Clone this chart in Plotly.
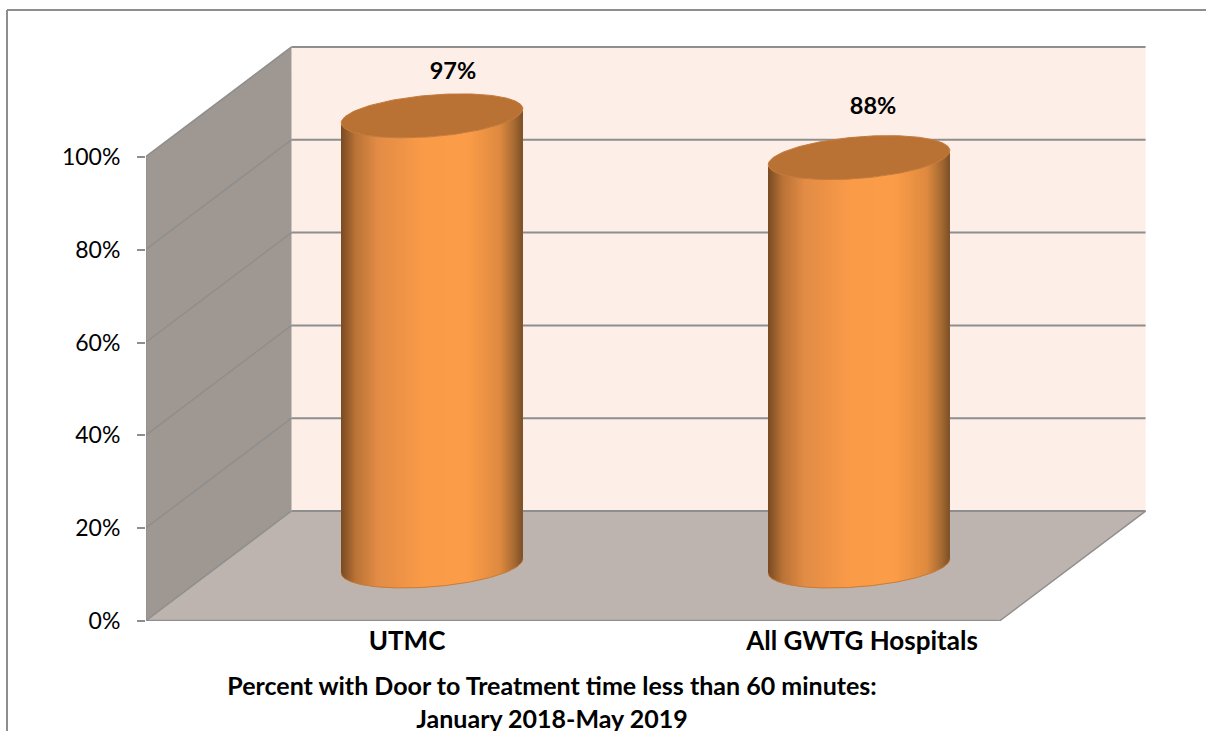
import numpy as np
import plotly.graph_objects as go

categories = ["UTMC", "All GWTG Hospitals"]
values = [97, 88]
value_labels = ["97%", "88%"]
y_ticks = [0, 20, 40, 60, 80, 100]
title_lines = ["Percent with Door to Treatment time less than 60 minutes:", "January 2018-May 2019"]

# oblique projection of the 3-D chart box, in axis units
DX, DY = 0.342, 23.7
X_RANGE = [-0.6698, 1.672]
Y_RANGE = [0, 123.9]
R_X, R_D = 0.2014, 0.2
LABEL_TICK_SHIFT = [-0.0585, 0.007]
LABEL_DX = [0.049, 0.033]
LABEL_DY = [9.3, 10.7]

FONT = "Lato"
GRAY = "#8E8E8E"
LEFT, RIGHT = -0.5, 1.5


def pr(x, v, d):
    return x + (d - 0.5) * DX, v + d * DY


def path(pts):
    return "M " + " L ".join(f"{a:.5f},{b:.5f}" for a, b in pts) + " Z"


def wall(corners, fill):
    return dict(type="path", xref="x", yref="y", layer="below", path=path(corners),
                fillcolor=fill, line=dict(width=0))


def seg(p, q, w=1.5, color=GRAY):
    return dict(type="line", xref="x", yref="y", layer="below", x0=p[0], y0=p[1], x1=q[0], y1=q[1],
                line=dict(color=color, width=w))


shapes = [
    wall([pr(LEFT, 0, 1), pr(RIGHT, 0, 1), pr(RIGHT, 100, 1), pr(LEFT, 100, 1)], "#FDEEE7"),
    wall([pr(LEFT, 0, 0), pr(LEFT, 0, 1), pr(LEFT, 100, 1), pr(LEFT, 100, 0)], "#9E9792"),
    wall([pr(LEFT, 0, 0), pr(RIGHT, 0, 0), pr(RIGHT, 0, 1), pr(LEFT, 0, 1)], "#BEB4AF"),
]
for t in y_ticks:
    shapes.append(seg(pr(LEFT, t, 1), pr(RIGHT, t, 1), 2))
    shapes.append(seg(pr(LEFT, t, 0), pr(LEFT, t, 1)))
shapes += [
    seg(pr(LEFT, 0, 0), pr(RIGHT, 0, 0), 2.5),
    seg(pr(RIGHT, 0, 0), pr(RIGHT, 0, 1)),
    seg(pr(LEFT, 0, 0), pr(LEFT, 100, 0), 2),
]
# outer frame of the picture (top and left edges)
px = lambda v: (v - 146) / 1000
py = lambda v: (621 - v) / 575
shapes += [
    dict(type="line", xref="paper", yref="paper", x0=px(7), x1=px(1206), y0=py(10), y1=py(10),
         line=dict(color=GRAY, width=2)),
    dict(type="line", xref="paper", yref="paper", x0=px(7), x1=px(7), y0=py(10), y1=py(731),
         line=dict(color=GRAY, width=2)),
]

stops_pos = [0.0, 0.03, 0.08, 0.2, 0.45, 0.7, 0.88, 0.96, 1.0]
stops_rgb = np.array([
    [122, 74, 34], [145, 90, 42], [186, 115, 54], [226, 140, 70], [250, 155, 72],
    [252, 157, 72], [222, 138, 64], [165, 105, 50], [128, 82, 40],
], dtype=float)

W = np.hypot(R_X, DX * R_D)
t0 = np.arctan2(DX * R_D, R_X)
N = 182
strip = 2 * W / N
u = -W + strip * (np.arange(N) + 0.5)
frac = (u + W) / (2 * W)
colors = [
    "rgb(%d,%d,%d)" % tuple(np.interp(f, stops_pos, stops_rgb[:, i]) for i in range(3))
    for f in frac
]
arc_t = np.linspace(t0 - np.pi, t0, 200)
arc_x = R_X * np.cos(arc_t) + DX * R_D * np.sin(arc_t)
arc_y = DY * R_D * np.sin(arc_t)
low = np.interp(u, arc_x, arc_y)

fig = go.Figure()
for i, v in enumerate(values):
    cx, cy0 = pr(i, 0, 0.5)
    fig.add_trace(go.Bar(
        x=cx + u, y=np.full(N, float(v)), base=cy0 + low, width=strip,
        marker=dict(color=colors, line=dict(width=0)), hoverinfo="skip", showlegend=False,
    ))
    fig.add_trace(go.Scatter(
        x=cx + arc_x, y=cy0 + arc_y, mode="lines", line=dict(color="#C67C3A", width=1),
        hoverinfo="skip", showlegend=False,
    ))
    t = np.linspace(0, 2 * np.pi, 180)
    fig.add_trace(go.Scatter(
        x=cx + R_X * np.cos(t) + DX * R_D * np.sin(t),
        y=cy0 + v + DY * R_D * np.sin(t),
        mode="lines", fill="toself", fillcolor="#BA7134",
        line=dict(color="#C47B3C", width=1), hoverinfo="skip", showlegend=False,
    ))

fig.add_trace(go.Scatter(
    x=[pr(i, 0, 0.5)[0] + LABEL_DX[i] for i in range(2)],
    y=[pr(i, v, 0.5)[1] + LABEL_DY[i] for i, v in enumerate(values)],
    text=value_labels, mode="text", textposition="middle center",
    textfont=dict(family=FONT, size=23.5, color="#000000", weight="bold"),
    hoverinfo="skip", showlegend=False, cliponaxis=False,
))

fig.update_layout(
    width=1206, height=731, autosize=False,
    margin=dict(l=146, r=60, t=46, b=110, pad=0),
    paper_bgcolor="#FFFFFF", plot_bgcolor="rgba(0,0,0,0)",
    barmode="overlay", showlegend=False, shapes=shapes,
    title=dict(
        text="<b>" + "<br>".join(title_lines) + "</b>",
        x=552 / 1206, xref="container", xanchor="center",
        y=1 - 695 / 731, yref="container", yanchor="middle",
        font=dict(family=FONT, size=25, color="#000000"),
    ),
    xaxis=dict(
        range=X_RANGE, showgrid=False, zeroline=False, showline=False, ticks="",
        tickvals=[pr(i, 0, 0.5)[0] + LABEL_TICK_SHIFT[i] for i in range(2)],
        ticktext=["<b>%s</b>" % c for c in categories],
        tickfont=dict(family=FONT, size=26, color="#000000"),
        ticklabelstandoff=2,
    ),
    yaxis=dict(
        range=Y_RANGE, showgrid=False, zeroline=False, showline=False,
        tickmode="array", tickvals=y_ticks, ticktext=[f"{t}%" for t in y_ticks],
        ticks="outside", ticklen=8, tickwidth=1.5, tickcolor=GRAY,
        tickfont=dict(family=FONT, size=23, color="#000000"),
        ticklabelstandoff=12,
    ),
)

fig.write_html("out.html", config=dict(displayModeBar=False),
               post_script="document.body.style.margin='0';document.body.style.overflow='hidden';")
